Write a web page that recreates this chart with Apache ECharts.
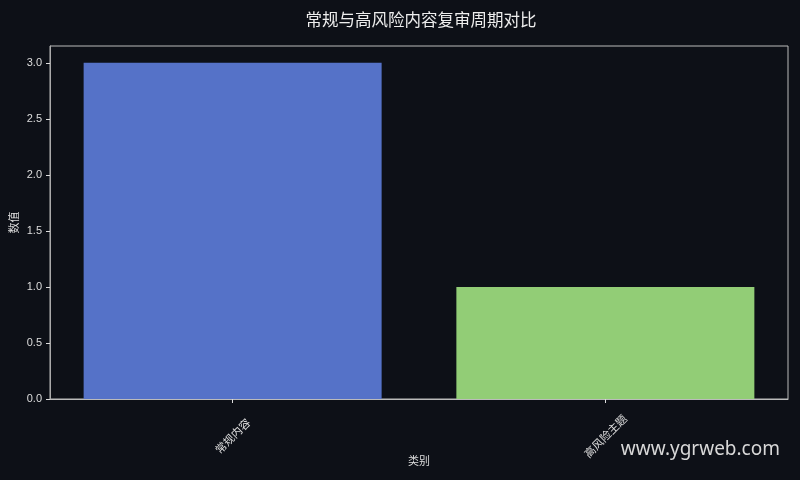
<!DOCTYPE html>
<html>
<head>
<meta charset="utf-8">
<script src="https://cdn.jsdelivr.net/npm/echarts@6/dist/echarts.min.js"></script>
<style>
html,body{margin:0;padding:0;background:#0d1017;}
#c{width:800px;height:480px;}
</style>
</head>
<body>
<div id="c"></div>
<script>
const categories = ['常规内容', '高风险主题'];
const values = [3.0, 1.0];
const barColors = ['#5572c8', '#92cd76'];
const yTicks = [0, 0.5, 1.0, 1.5, 2.0, 2.5, 3.0];
const titleText = '常规与高风险内容复审周期对比';
const xName = '类别';
const yName = '数值';
const watermark = 'www.ygrweb.com';

const xPos = categories.map((c, i) => i);

const chart = echarts.init(document.getElementById('c'));
chart.setOption({
  backgroundColor: '#0d1017',
  animation: false,
  title: {
    text: titleText,
    left: 416,
    textAlign: 'center',
    top: 6,
    textStyle: { color: '#eeeeee', fontSize: 16.5, fontWeight: 'normal', fontFamily: 'Noto Sans CJK SC' }
  },
  graphic: [{
    type: 'text',
    right: 20,
    top: 440,
    style: { text: watermark, fill: '#d8d8d8', fontSize: 19, fontFamily: 'Noto Sans' }
  }],
  grid: {
    left: 50, right: 12, top: 46, bottom: 81,
    outerBoundsMode: 'none',
    containLabel: false,
    show: true, borderColor: '#bbbbbb', borderWidth: 1, backgroundColor: 'transparent'
  },
  xAxis: {
    type: 'value',
    min: -0.49,
    max: 1.49,
    name: xName,
    nameLocation: 'middle',
    nameGap: 56,
    nameMoveOverlap: false,
    nameTextStyle: { color: '#dddddd', fontSize: 11, fontFamily: 'Noto Sans CJK SC' },
    axisLine: { show: true, onZero: false, lineStyle: { color: '#bbbbbb', width: 1 } },
    axisTick: { show: true, length: 4, lineStyle: { color: '#dddddd' }, customValues: xPos },
    axisLabel: {
      rotate: 45, align: 'center', verticalAlign: 'middle', margin: 37,
      color: '#dddddd', fontSize: 11, fontFamily: 'Noto Sans CJK SC',
      customValues: xPos,
      formatter: v => categories[Math.round(v)]
    },
    splitLine: { show: false }
  },
  yAxis: {
    type: 'value',
    min: 0,
    max: 3.15,
    interval: 0.5,
    name: yName,
    nameLocation: 'middle',
    nameGap: 31,
    nameMoveOverlap: false,
    nameRotate: 90,
    nameTextStyle: { color: '#dddddd', fontSize: 11, fontFamily: 'Noto Sans CJK SC' },
    axisLine: { show: true, onZero: false, lineStyle: { color: '#aaaaaa', width: 1 } },
    axisTick: { show: true, length: 4, lineStyle: { color: '#dddddd' }, customValues: yTicks },
    axisLabel: {
      color: '#dddddd', fontSize: 11, fontFamily: 'Liberation Sans', margin: 8,
      customValues: yTicks,
      formatter: v => v.toFixed(1)
    },
    splitLine: { show: false }
  },
  series: [{
    type: 'bar',
    data: values.map((v, i) => ({ value: [xPos[i], v], itemStyle: { color: barColors[i] } })),
    barWidth: 298
  }]
});
</script>
</body>
</html>
